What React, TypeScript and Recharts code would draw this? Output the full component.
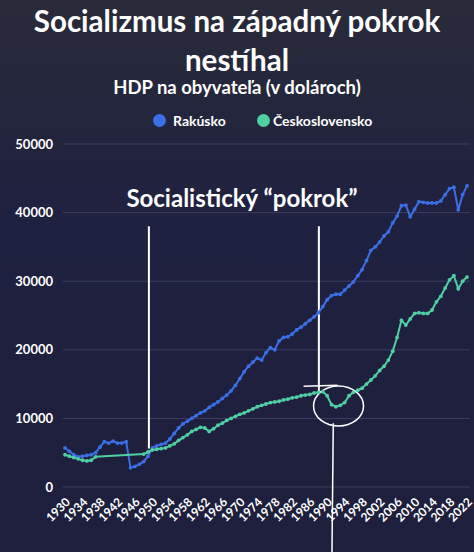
import React from "react";
import {
  LineChart,
  Line,
  XAxis,
  YAxis,
  CartesianGrid,
  ReferenceLine,
  ReferenceDot,
} from "recharts";

// GDP per capita, one value per year from 1930 to 2022
const years: number[] = Array.from({ length: 93 }, (_, i) => 1930 + i);

const austria: number[] = [
  5700, 5200, 4700, 4400, 4500, 4600, 4700, 5000, 5800, 6600, // 1930s
  6400, 6700, 6400, 6400, 6600, 2800, 3000, 3300, 3700, 4500, // 1940s
  5700, 6000, 6200, 6400, 7000, 7800, 8600, 9200, 9600, 10000, // 1950s
  10400, 10800, 11100, 11600, 12000, 12400, 12900, 13400, 14000, 14800, // 1960s
  15800, 16800, 17600, 18200, 18800, 18500, 19600, 20300, 20000, 21300, // 1970s
  21800, 21900, 22300, 22900, 23300, 23800, 24300, 24800, 25400, 26300, // 1980s
  27300, 27900, 28100, 28100, 28700, 29300, 29900, 30800, 31700, 33000, // 1990s
  34500, 35000, 35700, 36600, 37200, 38500, 39500, 41000, 41100, 39400, // 2000s
  40500, 41600, 41500, 41400, 41400, 41400, 41700, 42600, 43500, 43700, // 2010s
  40400, 42600, 43900,
];

// null = no data (1938-1947)
const czechoslovakia: (number | null)[] = [
  4700, 4500, 4300, 4100, 3900, 3800, 3900, 4400, null, null,
  null, null, null, null, null, null, null, null, 4800, 5100,
  5400, 5500, 5600, 5700, 6000, 6300, 6800, 7200, 7600, 8100,
  8400, 8700, 8600, 8100, 8500, 9000, 9300, 9700, 10000, 10300,
  10600, 10800, 11100, 11400, 11700, 11900, 12100, 12300, 12400, 12500,
  12700, 12800, 13000, 13100, 13300, 13400, 13500, 13700, 13800, 13900,
  13300, 12000, 11700, 11900, 12300, 13300, 13800, 14100, 14400, 15000,
  15600, 16200, 17000, 17600, 18500, 19800, 21800, 24300, 23600, 24500,
  25300, 25400, 25300, 25300, 25800, 27000, 27800, 29000, 30200, 30800,
  28900, 30000, 30600,
];

const xTicks: number[] = years.filter((y) => (y - 1930) % 4 === 0);
const yTicks: number[] = [0, 10000, 20000, 30000, 40000, 50000];

const BLUE = "#3b6fe6";
const GREEN = "#4fcfa2";
const FONT = "Lato, 'Open Sans', sans-serif";

const data = years.map((year, i) => ({
  year,
  austria: austria[i],
  czechoslovakia: czechoslovakia[i],
}));

const YearTick = (props: any) => {
  const { x, y, payload } = props;
  return (
    <g transform={`translate(${x + 3},${y + 5})`}>
      <text
        x={0}
        y={0}
        dy={4}
        textAnchor="end"
        transform="rotate(-45)"
        fill="#ffffff"
        fontSize={12}
        fontWeight={700}
        fontFamily={FONT}
      >
        {payload.value}
      </text>
    </g>
  );
};

// hand-drawn circle around the early 1990s dip
const DipCircle = (props: any) => (
  <ellipse
    cx={props.cx}
    cy={props.cy}
    rx={25}
    ry={20}
    fill="none"
    stroke="#ffffff"
    strokeWidth={1.5}
  />
);

const dotStyle = (c: string) => ({
  display: "inline-block",
  position: "absolute" as const,
  top: 2,
  width: 13,
  height: 13,
  borderRadius: 7,
  background: c,
});

export default function App() {
  return (
    <div
      style={{
        position: "absolute",
        left: 0,
        top: 0,
        width: 474,
        height: 552,
        overflow: "hidden",
        background: "linear-gradient(180deg, #292b3a 0%, #1f2140 40%, #1d1f3c 100%)",
        fontFamily: FONT,
        color: "#ffffff",
      }}
    >
      <div
        style={{
          position: "absolute",
          top: 1,
          left: 0,
          width: 474,
          textAlign: "center",
          fontSize: 29.5,
          fontWeight: 700,
          lineHeight: "39px",
        }}
      >
        Socializmus na západný pokrok
        <br />
        nestíhal
      </div>
      <div
        style={{
          position: "absolute",
          top: 76,
          left: 0,
          width: 474,
          textAlign: "center",
          fontSize: 18.5,
          fontWeight: 700,
        }}
      >
        HDP na obyvateľa (v dolároch)
      </div>
      <div
        style={{
          position: "absolute",
          top: 112,
          left: 0,
          width: 474,
          height: 18,
          fontSize: 14,
          fontWeight: 700,
          lineHeight: "18px",
        }}
      >
        <span style={{ ...dotStyle(BLUE), left: 153 }} />
        <span style={{ position: "absolute", left: 173 }}>Rakúsko</span>
        <span style={{ ...dotStyle(GREEN), left: 257 }} />
        <span style={{ position: "absolute", left: 273 }}>Československo</span>
      </div>

      <div style={{ position: "absolute", left: 0, top: 0 }}>
        <LineChart
          width={474}
          height={552}
          data={data}
          margin={{ top: 144, right: 4, bottom: 5, left: 0 }}
        >
          <CartesianGrid vertical={false} stroke="#3b3e5e" strokeWidth={1} />
          <XAxis
            dataKey="year"
            type="number"
            domain={[1930, 2022]}
            ticks={xTicks}
            interval={0}
            padding={{ left: 2, right: 3 }}
            axisLine={false}
            tickLine={false}
            height={60}
            tick={<YearTick />}
          />
          <YAxis
            domain={[0, 50000]}
            ticks={yTicks}
            width={63}
            axisLine={false}
            tickLine={false}
            tickMargin={4}
            tick={{ fill: "#ffffff", fontSize: 13, fontWeight: 700, fontFamily: FONT }}
          />
          <ReferenceLine
            segment={[{ x: 1949.2, y: 5600 }, { x: 1949.2, y: 38000 }]}
            stroke="#ffffff"
            strokeWidth={2}
          />
          <ReferenceLine
            segment={[{ x: 1988.1, y: 13700 }, { x: 1988.1, y: 38000 }]}
            stroke="#ffffff"
            strokeWidth={2}
          />
          <ReferenceLine
            segment={[{ x: 1984.6, y: 14700 }, { x: 1992.4, y: 14850 }]}
            stroke="#ffffff"
            strokeWidth={1.5}
          />
          <ReferenceLine
            segment={[{ x: 1991.4, y: 9300 }, { x: 1991.1, y: -9600 }]}
            stroke="#ffffff"
            strokeWidth={1.5}
            ifOverflow="visible"
          />
          <ReferenceDot
            x={1992.6}
            y={11800}
            r={20}
            ifOverflow="visible"
            shape={<DipCircle />}
          />
          <ReferenceDot
            x={1970.5}
            y={42100}
            r={0}
            fill="none"
            stroke="none"
            ifOverflow="visible"
            label={{
              value: "Socialistický “pokrok”",
              position: "center",
              fill: "#ffffff",
              fontSize: 24,
              fontWeight: 700,
              fontFamily: FONT,
            }}
          />
          <Line
            type="linear"
            dataKey="austria"
            stroke={BLUE}
            strokeWidth={2}
            dot={{ r: 1.9, fill: BLUE, stroke: BLUE, strokeWidth: 0 }}
            isAnimationActive={false}
          />
          <Line
            type="linear"
            dataKey="czechoslovakia"
            stroke={GREEN}
            strokeWidth={2}
            connectNulls
            dot={{ r: 1.9, fill: GREEN, stroke: GREEN, strokeWidth: 0 }}
            isAnimationActive={false}
          />
        </LineChart>
      </div>
    </div>
  );
}
